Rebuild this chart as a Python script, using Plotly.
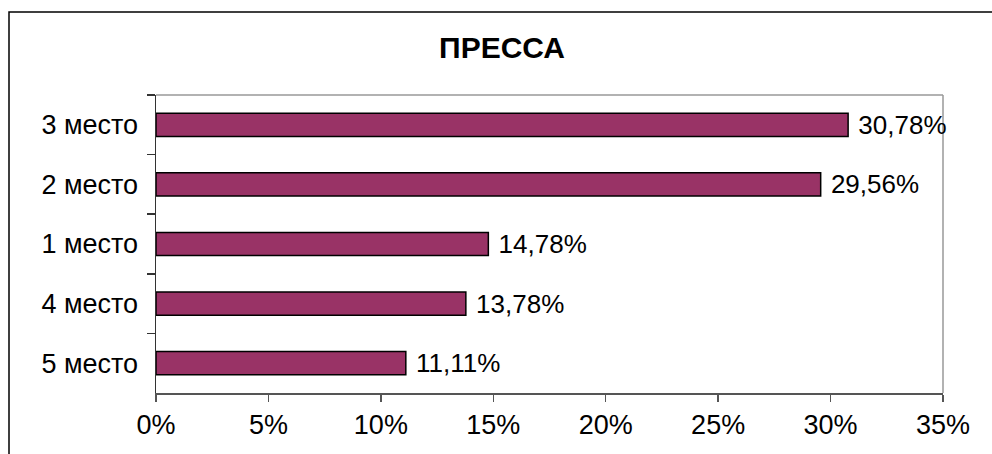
import plotly.graph_objects as go

categories = ["3 место", "2 место", "1 место", "4 место", "5 место"]
values = [30.78, 29.56, 14.78, 13.78, 11.11]
title_text = "ПРЕССА"
x_ticks = [0, 0.05, 0.10, 0.15, 0.20, 0.25, 0.30, 0.35]

W, H = 992, 454
L, R, T, B = 156, 943, 95, 393

fractions = [v / 100 for v in values]
labels = [" " + f"{v:.2f}%".replace(".", ",") for v in values]

font_family = "Liberation Sans, Arial, sans-serif"

fig = go.Figure(go.Bar(
    y=categories,
    x=fractions,
    orientation="h",
    marker=dict(color="#993366", line=dict(color="black", width=1.5)),
    text=labels,
    textposition="outside",
    constraintext="none",
    textfont=dict(family=font_family, size=26, color="black"),
    cliponaxis=False,
    width=0.39,
    hoverinfo="skip",
))

pw = R - L
ph = B - T

def px_to_paper_x(x):
    return (x - L) / pw

def px_to_paper_y(y):
    return (B - y) / ph

fig.update_layout(
    width=W, height=H,
    margin=dict(l=L, r=W - R, t=T, b=H - B, pad=0),
    paper_bgcolor="white",
    plot_bgcolor="white",
    showlegend=False,
    font=dict(family=font_family, size=25, color="black"),
    title=dict(
        text="<b>" + title_text + "</b>",
        x=502 / W, xref="container", xanchor="center",
        y=1 - 47 / H, yref="container", yanchor="middle",
        font=dict(family=font_family, size=30, color="black"),
    ),
    xaxis=dict(
        range=[0, 0.35],
        tickvals=x_ticks,
        tickformat=".0%",
        showgrid=False,
        zeroline=False,
        showline=True,
        linecolor="#555555",
        linewidth=1.5,
        ticks="outside",
        ticklen=7,
        tickcolor="#555555",
        tickwidth=1.5,
        automargin=False,
        fixedrange=True,
        tickfont=dict(family=font_family, size=27, color="black"),
    ),
    yaxis=dict(
        autorange="reversed",
        showgrid=False,
        zeroline=False,
        showline=True,
        linecolor="#333333",
        linewidth=1.5,
        ticks="outside",
        tickson="boundaries",
        ticklen=8,
        tickcolor="#333333",
        tickwidth=1.5,
        automargin=False,
        fixedrange=True,
        tickfont=dict(family=font_family, size=27, color="black"),
        ticklabelstandoff=11,
    ),
    shapes=[
        dict(type="line", xref="paper", yref="paper", x0=0, x1=1, y0=1, y1=1,
             line=dict(color="#999999", width=1.5), layer="below"),
        dict(type="line", xref="paper", yref="paper", x0=1, x1=1, y0=0, y1=1,
             line=dict(color="#999999", width=1.5), layer="below"),
        dict(type="rect", xref="paper", yref="paper",
             x0=px_to_paper_x(9), x1=px_to_paper_x(1100),
             y0=px_to_paper_y(600), y1=px_to_paper_y(12),
             line=dict(color="black", width=1.5), layer="below"),
    ],
)

fig.write_html(
    "out.html",
    config={"displayModeBar": False, "staticPlot": True},
    post_script="document.body.style.margin='0';document.body.style.padding='0';",
)
